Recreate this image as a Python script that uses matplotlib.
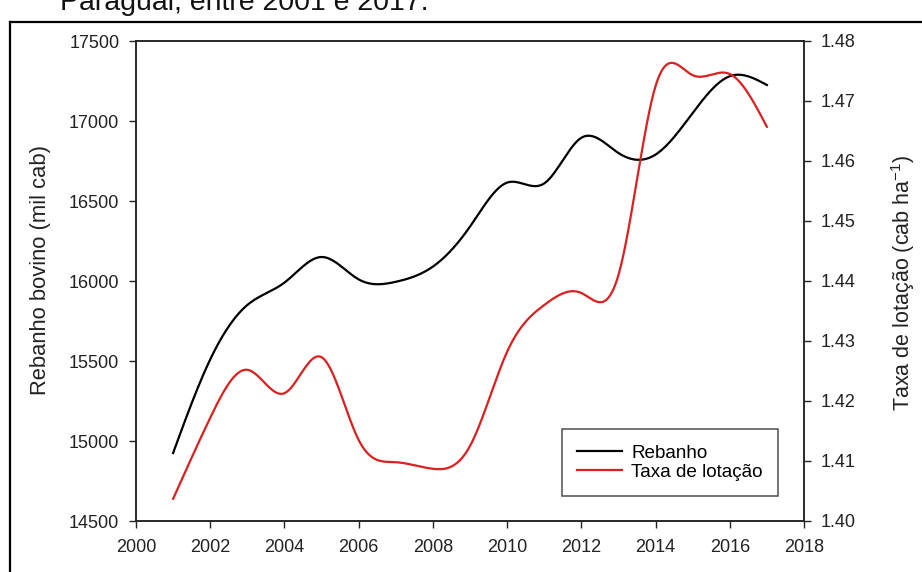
import numpy as np
import matplotlib
matplotlib.use("Agg")
import matplotlib.pyplot as plt
from matplotlib.lines import Line2D

plt.rcParams['font.family'] = ['Liberation Sans', 'DejaVu Sans']
plt.rcParams['mathtext.fontset'] = 'custom'
plt.rcParams['mathtext.rm'] = 'Liberation Sans'
plt.rcParams['mathtext.it'] = 'Liberation Sans:italic'

years = [2001, 2002, 2003, 2004, 2005, 2006, 2007, 2008, 2009,
         2010, 2011, 2012, 2013, 2014, 2015, 2016, 2017]
rebanho = [14925, 15510, 15850, 15990, 16150, 16010, 15995, 16090, 16340,
           16615, 16610, 16895, 16800, 16790, 17050, 17280, 17225]
taxa = [1.4037, 1.4172, 1.4252, 1.4213, 1.4273, 1.4135, 1.4098, 1.4087, 1.4125,
        1.4282, 1.4360, 1.4380, 1.4410, 1.4725, 1.4743, 1.4745, 1.4657]

x_ticks = list(range(2000, 2019, 2))
left_ticks = [14500, 15000, 15500, 16000, 16500, 17000, 17500]
right_ticks = [1.40, 1.41, 1.42, 1.43, 1.44, 1.45, 1.46, 1.47, 1.48]


def natural_spline(x, y, xs):
    x = np.asarray(x, float)
    y = np.asarray(y, float)
    n = len(x)
    h = np.diff(x)
    A = np.zeros((n, n))
    b = np.zeros(n)
    A[0, 0] = 1
    A[-1, -1] = 1
    for i in range(1, n - 1):
        A[i, i - 1] = h[i - 1]
        A[i, i] = 2 * (h[i - 1] + h[i])
        A[i, i + 1] = h[i]
        b[i] = 6 * ((y[i + 1] - y[i]) / h[i] - (y[i] - y[i - 1]) / h[i - 1])
    M = np.linalg.solve(A, b)
    idx = np.clip(np.searchsorted(x, xs) - 1, 0, n - 2)
    x0, x1 = x[idx], x[idx + 1]
    hh = x1 - x0
    t0 = x1 - xs
    t1 = xs - x0
    return (M[idx] * t0 ** 3 / (6 * hh) + M[idx + 1] * t1 ** 3 / (6 * hh)
            + (y[idx] / hh - M[idx] * hh / 6) * t0
            + (y[idx + 1] / hh - M[idx + 1] * hh / 6) * t1)


W, H = 922, 572
fig = plt.figure(figsize=(W / 100, H / 100), dpi=100)
ax = fig.add_axes([136 / W, 1 - 521 / H, (804 - 136) / W, (521 - 41) / H])
ax2 = ax.twinx()

xs = np.linspace(years[0], years[-1], 600)
red = '#dc1f1f'
l1, = ax.plot(xs, natural_spline(years, rebanho, xs), color='black', lw=1.6,
              label='Rebanho')
l2, = ax2.plot(xs, natural_spline(years, taxa, xs), color=red, lw=1.6,
               label='Taxa de lotação')

ax.set_xlim(2000, 2018)
ax.set_ylim(14500, 17500)
ax2.set_ylim(1.40, 1.48)
ax.set_xticks(x_ticks)
ax.set_yticks(left_ticks)
ax2.set_yticks(right_ticks)
ax2.set_yticklabels([f"{v:.2f}" for v in right_ticks])

tick_col = '#222222'
for a in (ax, ax2):
    a.tick_params(direction='out', length=5, width=1.0, labelsize=13,
                  colors=tick_col, pad=7)
    for s in a.spines.values():
        s.set_linewidth(1.1)
        s.set_color('#222222')
ax.tick_params(axis='x', pad=8)

ax.set_ylabel('Rebanho bovino (mil cab)', fontsize=15.8, color=tick_col)
ax.yaxis.set_label_coords((51 - 136) / 668, 0.523)
ax2.set_ylabel('Taxa de lotação (cab ha$^{-1}$)', fontsize=15.5, color=tick_col,
               rotation=90)
ax2.yaxis.set_label_coords((889 - 136) / 668, 0.496)

leg = ax.legend(handles=[l1, l2], loc='lower right',
                bbox_to_anchor=((778 - 136) / 668, (521 - 496) / 480),
                fontsize=13.6, frameon=True, fancybox=False, edgecolor='#222222',
                handlelength=2.4, borderpad=0.8, labelspacing=0.1,
                handletextpad=0.5, borderaxespad=0)
leg.get_frame().set_linewidth(1.1)

# cropped caption at top and outer frame
fig.text(60 / W, 1 - 10 / H, 'Paraguai, entre 2001 e 2017.', fontsize=20.5,
         ha='left', va='baseline', color='#111111')
fig.add_artist(Line2D([10 / W, 10 / W], [0, 1 - 22 / H], transform=fig.transFigure,
                      color='black', lw=1.6))
fig.add_artist(Line2D([10 / W, 1], [1 - 22 / H, 1 - 22 / H], transform=fig.transFigure,
                      color='black', lw=1.6))

fig.savefig('out.png', dpi=100)
